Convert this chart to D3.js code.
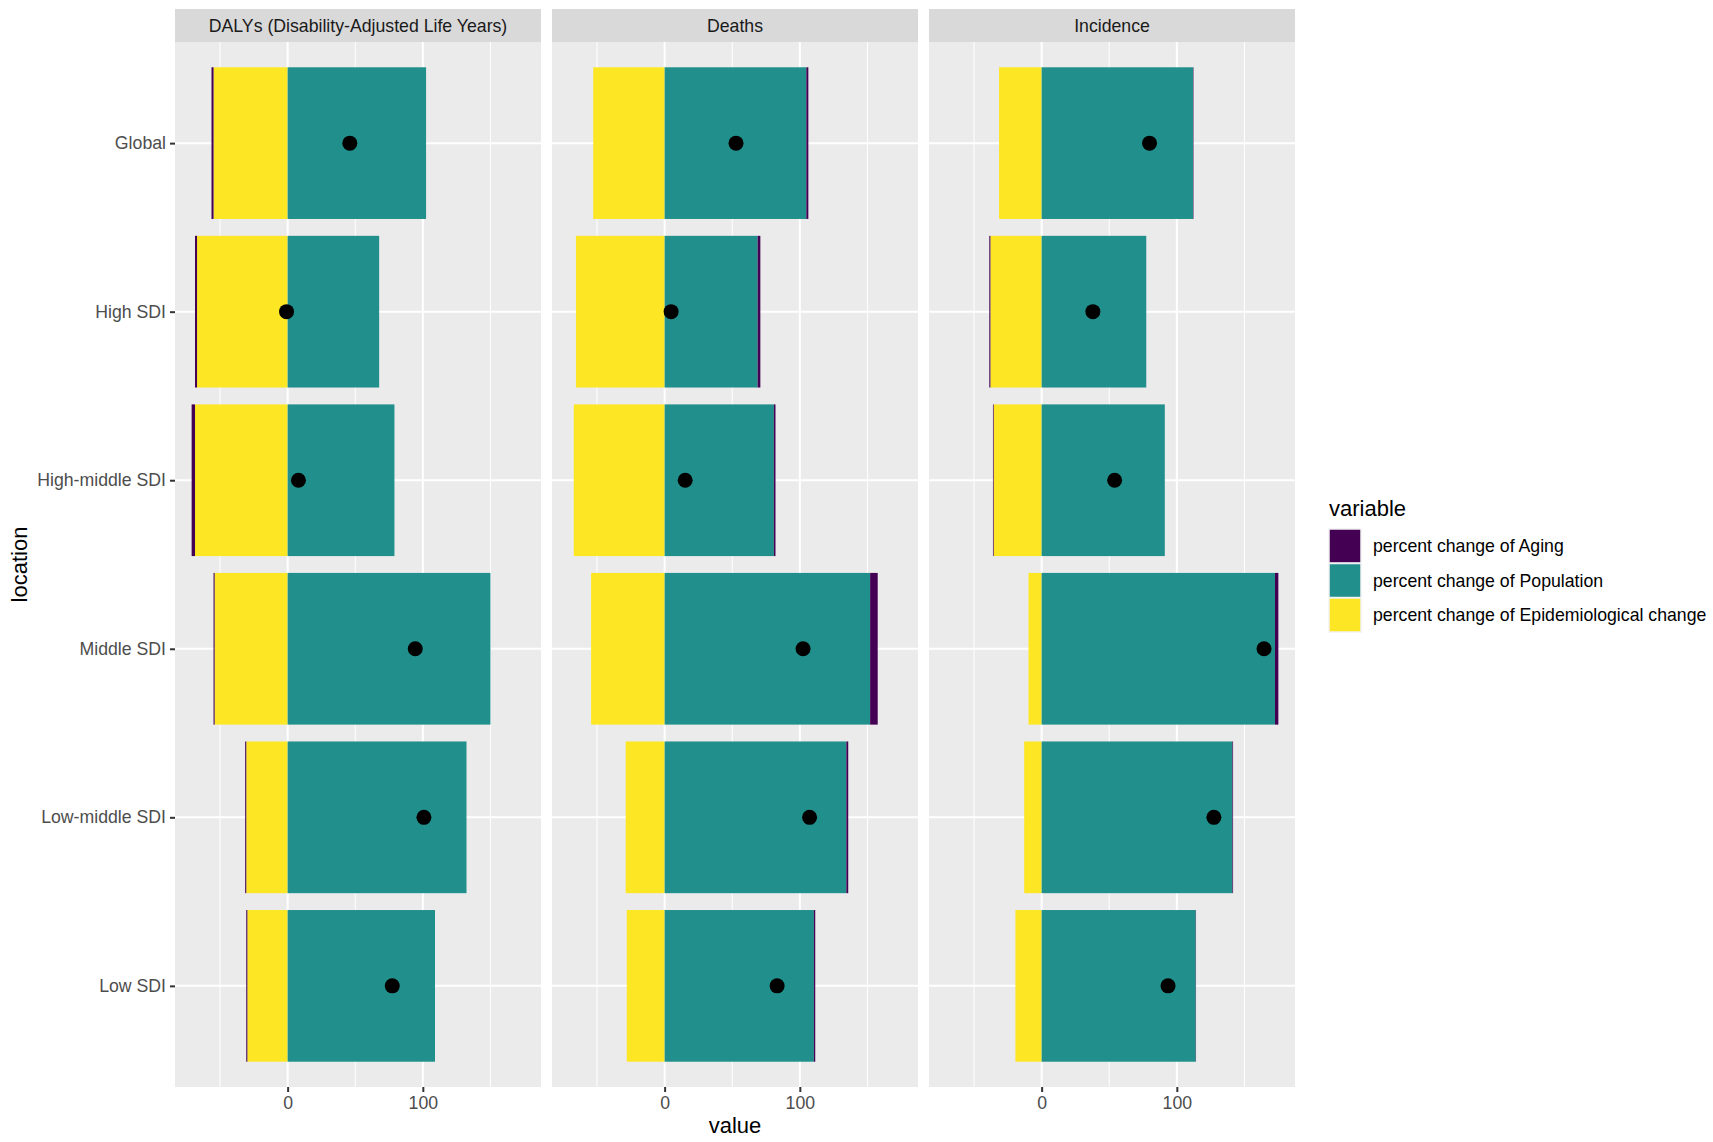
<!DOCTYPE html>
<meta charset="utf-8">
<style>
body { margin: 0; background: #fff; }
text { font-family: "Liberation Sans", Arial, sans-serif; }
</style>
<body>
<script src="https://cdn.jsdelivr.net/npm/d3@7"></script>
<script>

var measures = ["DALYs (Disability-Adjusted Life Years)", "Deaths", "Incidence"];
var locations = ["Global", "High SDI", "High-middle SDI", "Middle SDI", "Low-middle SDI", "Low SDI"];
var variables = ["percent change of Aging", "percent change of Population", "percent change of Epidemiological change"];
var colors = ["#440154", "#21908C", "#FDE725"];

// one row per measure, values in the order of locations
var aging = [
  [-1.5, -1.5, -2.5, -0.8, -0.8, -0.8],
  [1.5, 2.0, 1.2, 5.6, 1.4, 1.0],
  [0.3, -0.8, -0.5, 2.5, 0.5, 0.2]
];
var population = [
  [102.4, 67.7, 79.0, 150.0, 132.3, 109.0],
  [104.8, 68.8, 80.8, 152.0, 134.4, 110.4],
  [112.0, 77.4, 91.1, 172.6, 141.1, 114.0]
];
var epidemiological = [
  [-54.8, -67.0, -68.5, -54.0, -30.6, -29.8],
  [-52.8, -65.6, -67.2, -54.4, -28.8, -28.0],
  [-31.5, -37.9, -35.5, -9.7, -12.9, -19.4]
];
var overall = [
  [46.0, -0.8, 8.0, 94.4, 100.8, 77.4],
  [52.8, 4.8, 15.2, 102.4, 107.2, 83.2],
  [79.8, 37.9, 54.0, 164.5, 127.4, 93.5]
];

var width = 1713, height = 1142;
var panelTop = 42, panelBottom = 1087, stripTop = 9;
var panelLeft = 175, panelW = 366, gap = 11;
var fs = 17.7;

var svg = d3.select("body").append("svg")
    .attr("width", width)
    .attr("height", height);

// build rows for d3.stack: one per measure x location
var rows = [];
measures.forEach(function(m, mi) {
  locations.forEach(function(loc, li) {
    var r = { measure: m, mi: mi, location: loc, total: overall[mi][li] };
    r[variables[0]] = aging[mi][li];
    r[variables[1]] = population[mi][li];
    r[variables[2]] = epidemiological[mi][li];
    rows.push(r);
  });
});

// stack order: epi and population next to zero, aging outermost
var stack = d3.stack()
    .keys([variables[2], variables[1], variables[0]])
    .offset(d3.stackOffsetDiverging);
var layers = stack(rows);

var lo = d3.min(layers, function(l) { return d3.min(l, function(d) { return d[0]; }); });
var hi = d3.max(layers, function(l) { return d3.max(l, function(d) { return d[1]; }); });
var pad = (hi - lo) * 0.05;

var x = d3.scaleLinear().domain([lo - pad, hi + pad]).range([0, panelW]);
var y = d3.scalePoint().domain(locations).range([panelTop, panelBottom]).padding(0.6);
var barH = y.step() * 0.9;

var major = x.ticks(3);
var mstep = major[1] - major[0];
var minor = d3.range(Math.ceil(x.domain()[0] / (mstep / 2)) * (mstep / 2), x.domain()[1], mstep / 2)
    .filter(function(v) { return major.indexOf(v) < 0; });

measures.forEach(function(m, mi) {
  var g = svg.append("g")
      .attr("transform", "translate(" + (panelLeft + mi * (panelW + gap)) + ",0)");

  // strip
  g.append("rect")
      .attr("y", stripTop).attr("width", panelW).attr("height", panelTop - stripTop)
      .attr("fill", "#D9D9D9");
  g.append("text")
      .attr("x", panelW / 2).attr("y", (stripTop + panelTop) / 2)
      .attr("dy", "0.35em").attr("text-anchor", "middle")
      .attr("font-size", fs).attr("fill", "#1A1A1A")
      .text(m);

  // panel
  g.append("rect")
      .attr("y", panelTop).attr("width", panelW).attr("height", panelBottom - panelTop)
      .attr("fill", "#EBEBEB");

  g.selectAll(".minor").data(minor).enter().append("line")
      .attr("x1", function(d) { return x(d); }).attr("x2", function(d) { return x(d); })
      .attr("y1", panelTop).attr("y2", panelBottom)
      .attr("stroke", "#fff").attr("stroke-width", 1);
  g.selectAll(".major").data(major).enter().append("line")
      .attr("x1", function(d) { return x(d); }).attr("x2", function(d) { return x(d); })
      .attr("y1", panelTop).attr("y2", panelBottom)
      .attr("stroke", "#fff").attr("stroke-width", 2);
  g.selectAll(".hgrid").data(locations).enter().append("line")
      .attr("x1", 0).attr("x2", panelW)
      .attr("y1", function(d) { return y(d); }).attr("y2", function(d) { return y(d); })
      .attr("stroke", "#fff").attr("stroke-width", 2);

  // bars
  layers.forEach(function(layer) {
    var ci = variables.indexOf(layer.key);
    g.selectAll(null)
        .data(layer.filter(function(d) { return d.data.mi === mi; }))
        .enter().append("rect")
        .attr("x", function(d) { return x(Math.min(d[0], d[1])); })
        .attr("width", function(d) { return Math.abs(x(d[1]) - x(d[0])); })
        .attr("y", function(d) { return y(d.data.location) - barH / 2; })
        .attr("height", barH)
        .attr("fill", colors[ci]);
  });

  // overall points
  g.selectAll("circle")
      .data(rows.filter(function(d) { return d.mi === mi; }))
      .enter().append("circle")
      .attr("cx", function(d) { return x(d.total); })
      .attr("cy", function(d) { return y(d.location); })
      .attr("r", 7.5)
      .attr("fill", "#000");

  // x axis
  var ax = g.append("g")
      .attr("transform", "translate(0," + panelBottom + ")")
      .call(d3.axisBottom(x).tickValues(major).tickSize(5).tickPadding(4).tickFormat(d3.format("d")));
  ax.select(".domain").remove();
  ax.selectAll("line").attr("stroke", "#333").attr("stroke-width", 2);
  ax.selectAll("text").attr("font-size", fs).attr("fill", "#4D4D4D")
      .attr("font-family", "Liberation Sans, Arial, sans-serif");
});

// y axis
var ay = svg.append("g")
    .attr("transform", "translate(" + panelLeft + ",0)")
    .call(d3.axisLeft(y).tickSize(5).tickPadding(4));
ay.select(".domain").remove();
ay.selectAll("line").attr("stroke", "#333").attr("stroke-width", 2);
ay.selectAll("text").attr("font-size", fs).attr("fill", "#4D4D4D")
    .attr("font-family", "Liberation Sans, Arial, sans-serif");

// axis titles
svg.append("text")
    .attr("x", panelLeft + (3 * panelW + 2 * gap) / 2).attr("y", 1133)
    .attr("text-anchor", "middle").attr("font-size", 22).attr("fill", "#000")
    .text("value");
svg.append("text")
    .attr("transform", "translate(27," + (panelTop + panelBottom) / 2 + ") rotate(-90)")
    .attr("text-anchor", "middle").attr("font-size", 22).attr("fill", "#000")
    .text("location");

// legend
var lg = svg.append("g").attr("transform", "translate(1329,508)");
lg.append("text").attr("x", 0).attr("y", 0).attr("dy", "0.35em")
    .attr("font-size", 22).attr("fill", "#000").text("variable");
var item = lg.selectAll(".item").data(variables).enter().append("g")
    .attr("transform", function(d, i) { return "translate(0," + (21 + i * 34.5) + ")"; });
item.append("rect").attr("width", 32).attr("height", 34)
    .attr("fill", function(d, i) { return colors[i]; })
    .attr("stroke", "#F2F2F2").attr("stroke-width", 1.5);
item.append("text").attr("x", 44).attr("y", 17).attr("dy", "0.35em")
    .attr("font-size", fs).attr("fill", "#000").text(function(d) { return d; });

</script>
